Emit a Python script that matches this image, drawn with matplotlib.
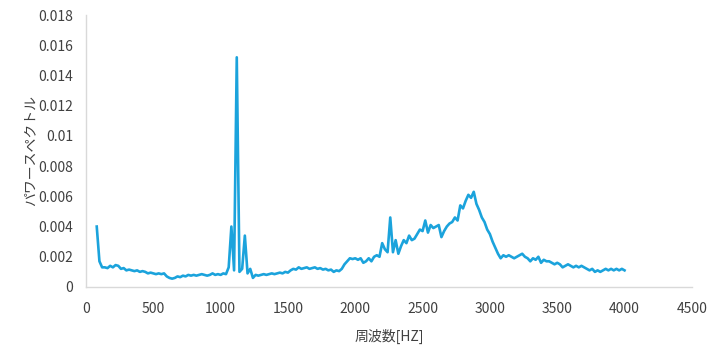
import numpy as np
import matplotlib
matplotlib.use("Agg")
import matplotlib.pyplot as plt

plt.rcParams['font.family'] = ['Noto Sans CJK JP', 'DejaVu Sans']

# frequency bins [Hz], 20 Hz apart
freq = np.arange(80, 4001, 20)

# power spectrum values
power = [
    0.0040, 0.0017, 0.0013, 0.0013, 0.00125, 0.0014, 0.0013, 0.00145, 0.0014, 0.0012,   # 80-260
    0.00125, 0.0011, 0.00115, 0.0011, 0.00105, 0.0011, 0.0010, 0.00105, 0.0010, 0.0009,  # 280-460
    0.00095, 0.0009, 0.00085, 0.0009, 0.00085, 0.0009, 0.0007, 0.0006, 0.00055, 0.0006,  # 480-660
    0.0007, 0.00065, 0.00075, 0.0007, 0.0008, 0.00075, 0.0008, 0.00075, 0.0008, 0.00085, # 680-860
    0.0008, 0.00075, 0.0008, 0.0009, 0.0008, 0.00085, 0.0008, 0.0009, 0.00085, 0.0013,   # 880-1060
    0.0040, 0.0011, 0.0152, 0.0010, 0.0012, 0.0034, 0.0009, 0.0012, 0.0006, 0.0008,      # 1080-1260
    0.00075, 0.0008, 0.00085, 0.0008, 0.00085, 0.0009, 0.00085, 0.0009, 0.00095, 0.0009, # 1280-1460
    0.0010, 0.00095, 0.0011, 0.0012, 0.00115, 0.0013, 0.0012, 0.00125, 0.0013, 0.0012,   # 1480-1660
    0.00125, 0.0013, 0.0012, 0.00125, 0.00115, 0.0012, 0.0011, 0.00115, 0.0010, 0.0011,  # 1680-1860
    0.00105, 0.0012, 0.0015, 0.0017, 0.0019, 0.00185, 0.0019, 0.0018, 0.0019, 0.0016,    # 1880-2060
    0.0017, 0.0019, 0.0017, 0.0020, 0.0021, 0.0020, 0.0029, 0.0025, 0.0023, 0.0046,      # 2080-2260
    0.0023, 0.0031, 0.0022, 0.0027, 0.0031, 0.0029, 0.0034, 0.0031, 0.0032, 0.0035,      # 2280-2460
    0.0038, 0.0037, 0.0044, 0.0036, 0.0041, 0.0039, 0.0040, 0.0041, 0.0033, 0.0037,      # 2480-2660
    0.0040, 0.0042, 0.0043, 0.0046, 0.0044, 0.0054, 0.0052, 0.0057, 0.0061, 0.0059,      # 2680-2860
    0.0063, 0.0055, 0.0051, 0.0046, 0.0043, 0.0038, 0.0035, 0.0030, 0.0026, 0.0022,      # 2880-3060
    0.0019, 0.0021, 0.0020, 0.0021, 0.0020, 0.0019, 0.0020, 0.0021, 0.0022, 0.0020,      # 3080-3260
    0.0019, 0.0017, 0.0019, 0.0018, 0.0020, 0.0016, 0.0018, 0.0017, 0.0017, 0.0016,      # 3280-3460
    0.0015, 0.0016, 0.0015, 0.0013, 0.0014, 0.0015, 0.0014, 0.0013, 0.0014, 0.0013,      # 3480-3660
    0.0014, 0.0013, 0.0012, 0.0011, 0.0012, 0.0010, 0.0011, 0.0010, 0.0011, 0.0012,      # 3680-3860
    0.0011, 0.0012, 0.0011, 0.0012, 0.0011, 0.0012, 0.0011,                              # 3880-4000
]

x_ticks = [0, 500, 1000, 1500, 2000, 2500, 3000, 3500, 4000, 4500]
y_ticks = [0, 0.002, 0.004, 0.006, 0.008, 0.01, 0.012, 0.014, 0.016, 0.018]
y_tick_labels = ['0', '0.002', '0.004', '0.006', '0.008', '0.01', '0.012', '0.014', '0.016', '0.018']

fig = plt.figure(figsize=(7.14, 3.49), dpi=100)
ax = fig.add_axes([0.1204, 0.1777, 0.8486, 0.7793])

ax.plot(freq, power, color='#1ba3dc', linewidth=1.9)

ax.set_xlim(0, 4500)
ax.set_ylim(0, 0.018)
ax.set_xticks(x_ticks)
ax.set_yticks(y_ticks)
ax.set_yticklabels(y_tick_labels)

for side in ['top', 'right']:
    ax.spines[side].set_visible(False)
for side in ['left', 'bottom']:
    ax.spines[side].set_color('#d9d9d9')
    ax.spines[side].set_linewidth(1.0)

ax.tick_params(axis='both', length=0, labelsize=10, colors='#404040')
ax.tick_params(axis='x', pad=11)
ax.tick_params(axis='y', pad=9)

ax.set_xlabel('周波数[HZ]', fontsize=10, color='#404040', labelpad=9)
ax.set_ylabel('パワースペクトル', fontsize=10, color='#404040', labelpad=1)

fig.savefig('out.png', dpi=100, facecolor='white')
